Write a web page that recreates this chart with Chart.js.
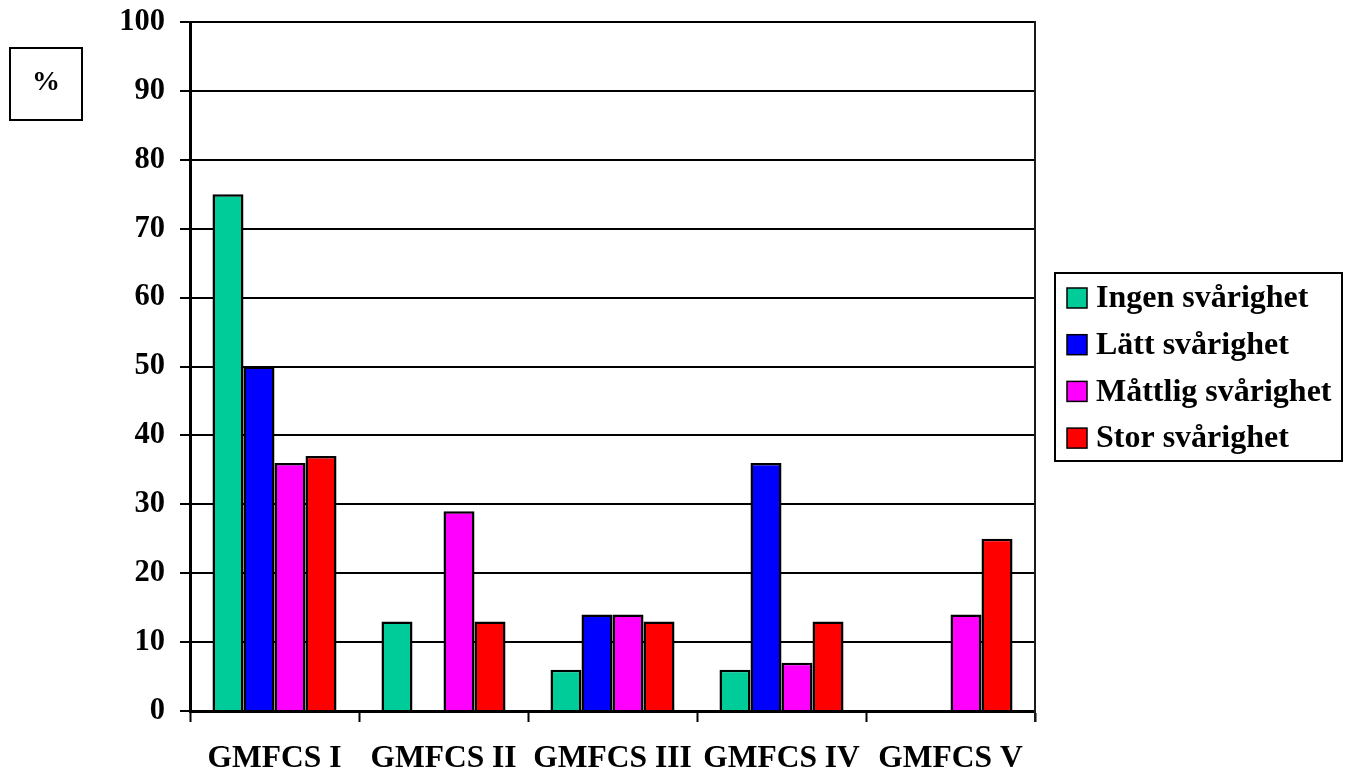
<!DOCTYPE html>
<html>
<head>
<meta charset="utf-8">
<title>GMFCS</title>
<script src="https://cdn.jsdelivr.net/npm/chart.js@4/dist/chart.umd.min.js"></script>
<style>
  html, body { margin: 0; padding: 0; background: #ffffff; }
  canvas { display: block; }
</style>
</head>
<body>
<canvas id="chart" width="1350" height="774"></canvas>
<script>
// Categories (GMFCS levels) and the four difficulty series, in percent
const categories = ['GMFCS I', 'GMFCS II', 'GMFCS III', 'GMFCS IV', 'GMFCS V'];
const seriesNames = ['Ingen svårighet', 'Lätt svårighet', 'Måttlig svårighet', 'Stor svårighet'];
const ingen   = [75, 13, 6, 6, 0];
const latt    = [50, 0, 14, 36, 0];
const mattlig = [36, 29, 14, 7, 14];
const stor    = [37, 13, 13, 13, 25];
const seriesColors = ['#00CC99', '#0000FF', '#FF00FF', '#FF0000'];
const yTicks = [0, 10, 20, 30, 40, 50, 60, 70, 80, 90, 100];
const unitLabel = '%';

const FONT_FAMILY = '"Liberation Serif", "Times New Roman", serif';

const datasets = [ingen, latt, mattlig, stor].map((values, i) => ({
  label: seriesNames[i],
  data: values,
  backgroundColor: seriesColors[i],
  borderColor: '#000000',
  borderWidth: 2.5,
  categoryPercentage: 0.734,
  barPercentage: 1.0
}));

// Frame on the right of the plot area, the boxed unit label and the boxed legend
const decorations = {
  id: 'decorations',
  afterDatasetsDraw(chart) {
    const { ctx, chartArea } = chart;
    ctx.save();
    ctx.strokeStyle = '#1a1a1a';
    ctx.lineWidth = 2;
    ctx.beginPath();
    ctx.moveTo(chartArea.right, chartArea.top - 1);
    ctx.lineTo(chartArea.right, chartArea.bottom + 11);
    ctx.stroke();
    ctx.restore();
  },
  afterDraw(chart) {
    const { ctx } = chart;
    ctx.save();
    // unit box
    ctx.strokeStyle = '#000000';
    ctx.lineWidth = 2;
    ctx.strokeRect(10, 48, 72, 72);
    ctx.fillStyle = '#000000';
    ctx.font = 'bold 28px ' + FONT_FAMILY;
    ctx.textAlign = 'center';
    ctx.textBaseline = 'middle';
    ctx.fillText(unitLabel, 46, 83);

    // legend box
    ctx.lineWidth = 2;
    ctx.strokeRect(1055, 273, 287, 188);
    ctx.font = 'bold 32px ' + FONT_FAMILY;
    ctx.textAlign = 'left';
    chart.data.datasets.forEach((ds, i) => {
      const cy = 298 + i * 46.7;
      ctx.fillStyle = ds.backgroundColor;
      ctx.fillRect(1067, cy - 10, 20, 20);
      ctx.strokeStyle = '#000000';
      ctx.lineWidth = 1.5;
      ctx.strokeRect(1067, cy - 10, 20, 20);
      ctx.fillStyle = '#000000';
      ctx.fillText(ds.label, 1096, cy + 1);
    });
    ctx.restore();
  }
};

new Chart(document.getElementById('chart'), {
  type: 'bar',
  data: { labels: categories, datasets },
  options: {
    responsive: false,
    animation: false,
    layout: { padding: { left: 0, right: 315, top: 22, bottom: 0 } },
    plugins: {
      legend: { display: false },
      tooltip: { enabled: false }
    },
    scales: {
      x: {
        grid: {
          offset: true,
          drawOnChartArea: false,
          drawTicks: true,
          tickLength: 11,
          tickColor: '#000000',
          tickWidth: 2
        },
        border: { display: true, color: '#000000', width: 3 },
        ticks: {
          color: '#000000',
          padding: 18,
          maxRotation: 0,
          autoSkip: false,
          font: { family: FONT_FAMILY, size: 31.5, weight: 'bold' }
        },
        afterFit(scale) { scale.height = 63; }
      },
      y: {
        min: 0,
        max: 100,
        afterBuildTicks(scale) { scale.ticks = yTicks.map(v => ({ value: v })); },
        grid: {
          color: '#000000',
          lineWidth: 2,
          drawTicks: true,
          tickLength: 10,
          tickColor: '#000000',
          tickWidth: 2
        },
        border: { display: true, color: '#000000', width: 3 },
        ticks: {
          color: '#000000',
          padding: 15,
          font: { family: FONT_FAMILY, size: 30.5, weight: 'bold' }
        },
        afterFit(scale) {
          scale.width = 190;
          scale.paddingTop = 0;
          scale.paddingBottom = 0;
        }
      }
    }
  },
  plugins: [decorations]
});
</script>
</body>
</html>
